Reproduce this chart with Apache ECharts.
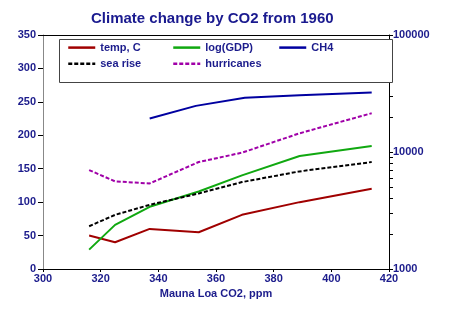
<!DOCTYPE html>
<html><head><meta charset="utf-8">
<script src="https://cdn.jsdelivr.net/npm/echarts@6/dist/echarts.min.js"></script>
<style>html,body{margin:0;padding:0;background:#fff}#c{width:450px;height:325px}</style>
</head><body><div id="c"></div>
<script>
const co2 = [316, 325, 337, 354, 369, 389, 414];
const tempC = [50, 40, 60, 55, 81, 100, 120];
const logGDP = [29, 66, 93, 116, 140, 169, 184];
const seaRise = [64, 81, 96, 113, 130, 146, 160];
const hurricanes = [148, 131, 128, 160, 174, 203, 233];
const ch4Co2 = [337, 353, 370, 389, 414];
const ch4 = [225, 244, 256, 260, 264];
const rightTicks = [1000,2000,3000,4000,5000,6000,7000,8000,9000,10000,20000,30000,40000,50000,60000,70000,80000,90000,100000];
const rightLabels = [1000, 10000, 100000];

const pair = (xs, ys) => xs.map((x, i) => [x, ys[i]]);
const txt = '#1c1c8c';
const font = {color: txt, fontWeight: 'bold', fontSize: 11, fontFamily: 'Liberation Sans, Arial, sans-serif'};

const mk = (name, xs, ys, color, dashed) => ({
  name, type: 'line', data: pair(xs, ys), showSymbol: false, symbol: 'none',
  lineStyle: {color, width: 2, type: dashed ? [4, 2] : 'solid'},
  itemStyle: {color}, z: 3
});

const legendBase = {orient: 'vertical', itemWidth: 27, itemHeight: 14, itemGap: 5,
  itemStyle: {color: 'rgba(0,0,0,0)', borderWidth: 0, opacity: 0},
  lineStyle: {width: 2.5},
  textStyle: Object.assign({}, font, {padding: [0,0,0,0]}), selectedMode: false, padding: 0};

const chart = echarts.init(document.getElementById('c'), null, {renderer: 'canvas'});
chart.setOption({
  animation: false,
  backgroundColor: '#fff',
  title: {text: 'Climate change by CO2 from 1960', left: 86, top: 6,
    textStyle: {color: '#1a1a8f', fontWeight: 'bold', fontSize: 15, fontFamily: 'Liberation Sans, Arial, sans-serif'}},
  grid: {left: 43, right: 61, top: 35, bottom: 56},
  legend: [
    Object.assign({}, legendBase, {left: 67, top: 42, data: ['temp, C', 'sea rise']}),
    Object.assign({}, legendBase, {left: 172, top: 42, data: ['log(GDP)', 'hurricanes']}),
    Object.assign({}, legendBase, {left: 278, top: 42, data: ['CH4']})
  ],
  graphic: [{type: 'rect', shape: {x: 59.5, y: 39.5, width: 333, height: 43},
    style: {fill: '#fff', stroke: '#444', lineWidth: 1}, z: 1}],
  xAxis: [{
    type: 'value', min: 300, max: 420, interval: 20, position: 'bottom',
    axisLine: {lineStyle: {color: '#000', width: 1}},
    axisTick: {show: true, length: 3, lineStyle: {color: '#000'}},
    axisLabel: Object.assign({}, font, {margin: 4}),
    splitLine: {show: false},
    name: 'Mauna Loa CO2, ppm', nameLocation: 'middle', nameGap: 19,
    nameTextStyle: font
  }, {
    type: 'value', min: 300, max: 420, position: 'top',
    axisLine: {show: true, lineStyle: {color: '#000', width: 1}},
    axisTick: {show: false}, axisLabel: {show: false}, splitLine: {show: false}
  }],
  yAxis: [{
    type: 'value', min: 0, max: 350, interval: 50, position: 'left',
    axisLine: {show: true, lineStyle: {color: '#888', width: 1}},
    axisTick: {show: true, length: 5, lineStyle: {color: '#000'}},
    axisLabel: Object.assign({}, font, {margin: 7}),
    splitLine: {show: false}
  }, {
    type: 'log', logBase: 10, min: 1000, max: 100000, position: 'right',
    axisLine: {show: true, lineStyle: {color: '#000', width: 1}},
    axisTick: {show: true, length: 4, lineStyle: {color: '#000'}, customValues: rightTicks},
    axisLabel: Object.assign({}, font, {margin: 4, customValues: rightLabels,
      formatter: v => String(Math.round(v))}),
    splitLine: {show: false}
  }],
  series: [
    mk('temp, C', co2, tempC, '#a00000', false),
    mk('log(GDP)', co2, logGDP, '#10a810', false),
    mk('CH4', ch4Co2, ch4, '#0000a0', false),
    mk('sea rise', co2, seaRise, '#000000', true),
    mk('hurricanes', co2, hurricanes, '#a000a8', true)
  ]
});
</script></body></html>
